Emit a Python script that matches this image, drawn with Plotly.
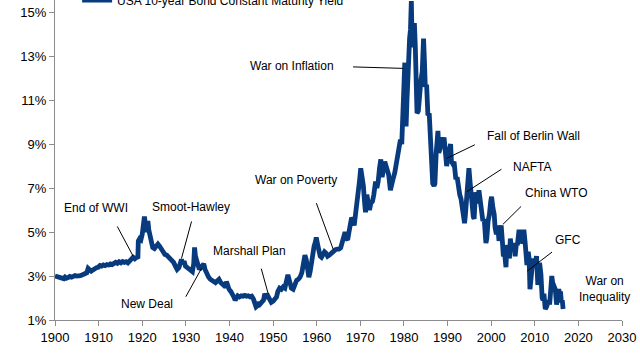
import plotly.graph_objects as go

# ---- data ----
years = [1900.0,1900.4,1900.8,1901.2,1901.6,1902.0,1902.3,1902.6,1903.0,1903.4,1903.8,1904.2,1904.6,1905.0,1905.4,1905.8,1906.2,1906.6,1907.0,1907.3,1907.6,1907.9,1908.3,1908.7,1909.1,1909.5,1909.9,1910.3,1910.7,1911.1,1911.5,1911.9,1912.3,1912.7,1913.1,1913.5,1913.9,1914.3,1914.7,1915.1,1915.5,1915.9,1916.3,1916.7,1917.1,1917.5,1917.9,1918.3,1918.7,1919.0,1919.1,1919.4,1919.7,1920.0,1920.3,1920.5,1920.7,1920.9,1921.1,1921.3,1921.5,1921.8,1922.1,1922.4,1922.8,1923.2,1923.6,1924.0,1924.4,1924.8,1925.2,1925.6,1926.0,1926.4,1926.8,1927.2,1927.6,1928.0,1928.4,1928.8,1929.0,1929.3,1929.6,1929.9,1930.3,1930.7,1931.1,1931.5,1931.8,1932.0,1932.2,1932.5,1932.8,1933.1,1933.5,1933.8,1934.1,1934.4,1934.8,1935.2,1935.6,1936.0,1936.4,1936.8,1937.2,1937.6,1938.0,1938.4,1938.8,1939.1,1939.3,1939.6,1939.9,1940.3,1940.7,1941.0,1941.3,1941.6,1941.9,1942.3,1942.7,1943.1,1943.5,1943.9,1944.3,1944.7,1945.1,1945.5,1945.8,1946.1,1946.4,1946.7,1947.0,1947.4,1947.8,1948.1,1948.4,1948.8,1949.2,1949.6,1950.0,1950.4,1950.8,1951.1,1951.5,1951.9,1952.3,1952.7,1953.0,1953.4,1953.8,1954.2,1954.6,1955.0,1955.4,1955.8,1956.2,1956.6,1956.9,1957.3,1957.6,1957.9,1958.2,1958.5,1958.8,1959.1,1959.4,1959.7,1959.9,1960.2,1960.5,1960.8,1961.1,1961.4,1961.8,1962.1,1962.5,1962.9,1963.2,1963.6,1963.9,1964.3,1964.7,1965.1,1965.5,1965.9,1966.2,1966.5,1966.8,1967.1,1967.4,1967.7,1968.0,1968.3,1968.6,1968.9,1969.2,1969.5,1969.8,1970.1,1970.4,1970.7,1971.0,1971.2,1971.5,1971.8,1972.1,1972.4,1972.8,1973.1,1973.5,1973.8,1974.1,1974.4,1974.7,1975.0,1975.3,1975.6,1975.9,1976.2,1976.5,1976.9,1977.2,1977.5,1977.9,1978.2,1978.5,1978.9,1979.2,1979.5,1979.8,1980.0,1980.2,1980.4,1980.5,1980.7,1980.9,1981.1,1981.3,1981.5,1981.7,1981.9,1982.1,1982.4,1982.6,1982.8,1983.0,1983.3,1983.6,1983.9,1984.2,1984.5,1984.7,1984.9,1985.2,1985.5,1985.8,1986.0,1986.3,1986.6,1986.9,1987.1,1987.4,1987.8,1988.0,1988.3,1988.6,1988.9,1989.2,1989.5,1989.8,1990.1,1990.4,1990.7,1990.9,1991.2,1991.5,1991.9,1992.2,1992.5,1992.8,1993.1,1993.4,1993.7,1993.9,1994.1,1994.4,1994.6,1994.9,1995.2,1995.5,1995.9,1996.1,1996.4,1996.7,1996.9,1997.2,1997.5,1997.8,1998.1,1998.4,1998.8,1999.0,1999.3,1999.6,1999.9,2000.1,2000.4,2000.7,2000.9,2001.2,2001.5,2001.8,2002.1,2002.3,2002.6,2002.8,2003.1,2003.4,2003.6,2003.9,2004.2,2004.4,2004.7,2004.9,2005.2,2005.5,2005.8,2006.0,2006.4,2006.7,2006.9,2007.2,2007.5,2007.8,2008.0,2008.2,2008.5,2008.7,2008.9,2009.1,2009.4,2009.6,2009.9,2010.2,2010.4,2010.7,2010.9,2011.1,2011.4,2011.7,2011.9,2012.1,2012.4,2012.7,2012.9,2013.2,2013.4,2013.6,2013.9,2014.1,2014.4,2014.7,2015.0,2015.2,2015.5,2015.7,2015.9,2016.1,2016.3,2016.5]
yields = [3.00,2.97,2.95,2.92,2.90,2.88,2.95,2.90,2.93,2.98,2.95,3.00,3.02,3.00,3.04,3.02,3.05,3.08,3.10,3.15,3.35,3.28,3.22,3.28,3.35,3.38,3.40,3.48,3.45,3.50,3.47,3.52,3.50,3.55,3.52,3.58,3.62,3.58,3.65,3.60,3.66,3.62,3.65,3.60,3.68,3.75,3.85,3.78,3.85,3.80,4.60,4.70,4.65,4.90,5.30,5.70,5.40,5.00,5.20,5.50,5.10,4.80,4.50,4.30,4.25,4.40,4.45,4.35,4.20,4.05,3.98,3.95,3.88,3.80,3.72,3.62,3.45,3.30,3.38,3.55,3.75,3.55,3.68,3.45,3.38,3.32,3.28,3.20,3.55,4.30,3.90,3.70,3.50,3.30,3.40,3.50,3.55,3.30,3.10,2.95,2.85,2.82,2.75,2.70,2.78,2.85,2.70,2.62,2.55,2.50,2.75,2.45,2.40,2.30,2.20,2.05,1.90,2.00,2.10,2.05,2.10,2.08,2.12,2.08,2.10,2.05,2.08,1.95,1.70,1.60,1.65,1.80,1.72,1.80,1.90,2.20,2.05,2.10,1.90,1.80,1.85,2.00,2.05,2.30,2.45,2.40,2.50,2.45,2.65,3.05,2.75,2.45,2.40,2.60,2.80,2.85,2.95,3.15,3.40,3.95,3.75,3.30,2.95,3.20,3.70,4.00,4.35,4.55,4.75,4.45,4.05,3.90,3.85,4.00,4.10,4.05,3.90,3.95,4.00,4.10,4.18,4.20,4.22,4.22,4.28,4.55,4.90,5.00,4.70,4.65,5.00,5.35,5.65,5.55,5.30,5.80,6.20,6.60,7.30,7.90,7.50,7.10,6.30,5.90,6.70,6.10,6.00,6.30,6.40,6.70,7.30,7.00,7.30,7.90,8.30,7.50,7.90,8.20,8.00,7.80,7.60,6.90,7.30,7.40,7.70,8.10,8.60,9.00,9.20,9.00,10.40,11.20,12.70,10.50,9.80,11.00,12.70,12.60,13.80,14.20,15.50,13.40,14.30,14.50,13.50,11.00,10.40,10.50,11.40,11.90,12.30,13.80,12.80,11.60,11.70,10.30,10.40,9.20,7.40,7.20,7.10,7.20,8.60,9.60,8.60,8.80,9.30,8.90,9.30,8.30,8.00,8.40,8.80,9.00,8.20,8.10,8.20,7.40,7.50,6.90,6.70,6.50,6.00,5.50,5.40,5.80,7.00,7.30,7.90,7.20,6.20,5.70,5.60,6.80,6.60,6.30,6.90,6.30,6.00,5.50,5.60,4.50,4.70,5.50,5.80,6.40,6.60,6.10,5.80,5.20,4.90,5.30,4.60,5.00,5.30,4.50,3.90,4.00,3.40,4.40,4.20,3.80,4.70,4.20,4.20,4.50,3.90,4.50,4.40,5.10,4.80,4.50,4.60,5.10,4.50,3.70,3.50,4.10,3.80,2.40,2.80,3.40,3.80,3.40,3.80,3.90,2.60,2.80,3.60,3.10,2.00,1.90,2.20,1.50,1.60,1.70,1.90,1.70,2.60,3.00,2.70,2.60,2.40,1.70,2.10,2.40,2.20,2.30,1.80,1.90,1.50]

series_name = "USA 10-year Bond Constant Maturity Yield"
x_ticks = [1900, 1910, 1920, 1930, 1940, 1950, 1960, 1970, 1980, 1990, 2000, 2010, 2020, 2030]
y_ticks = [1, 3, 5, 7, 9, 11, 13, 15]

# event labels: text, text position (year, %), leader tail (year, %), leader tip (year, %)
events = [
    ("End of WWI",          1909.3, 6.08, 1914.1, 5.32, 1917.9, 3.91),
    ("Smoot-Hawley",        1931.1, 6.12, 1931.4, 5.55, 1929.0, 3.80),
    ("New Deal",            1921.2, 1.71, 1929.8, 1.99, 1933.6, 3.35),
    ("Marshall Plan",       1944.6, 4.15, 1947.2, 3.40, 1948.9, 2.18),
    ("War on Poverty",      1955.2, 7.36, 1959.8, 6.38, 1963.8, 4.21),
    ("War on Inflation",    1954.3, 12.55, 1968.0, 12.51, 1979.9, 12.44),
    ("Fall of Berlin Wall", 2009.8, 9.36, 1996.6, 9.00, 1989.8, 8.35),
    ("NAFTA",               2009.3, 7.97, 2002.7, 7.90, 1994.4, 6.83),
    ("China WTO",           2014.8, 6.76, 2007.2, 6.23, 2002.7, 5.35),
    ("GFC",                 2017.6, 4.64, 2014.3, 4.14, 2008.3, 3.23),
]
side_note = ("War on<br>Inequality", 2025.9, 2.43)

FONT = "Liberation Sans, Arial, sans-serif"
FS = 12
TICK_FS = 13
LINE_COLOR = "#083a7e"

fig = go.Figure()
fig.add_trace(go.Scatter(
    x=years, y=yields, mode="lines", name=series_name,
    line=dict(color=LINE_COLOR, width=4.8),
    showlegend=True, hoverinfo="skip",
))

annotations = []
for text, tx, ty, ax_, ay_, px_, py_ in events:
    annotations.append(dict(x=tx, y=ty, xref="x", yref="y", text=text,
                            showarrow=False, font=dict(family=FONT, size=FS, color="#000")))
    annotations.append(dict(x=px_, y=py_, ax=ax_, ay=ay_, xref="x", yref="y",
                            axref="x", ayref="y", text="", showarrow=True,
                            arrowhead=0, arrowwidth=1, arrowcolor="#000", standoff=0))
annotations.append(dict(x=side_note[1], y=side_note[2], xref="x", yref="y",
                        text=side_note[0], showarrow=False, align="center",
                        font=dict(family=FONT, size=FS, color="#000")))

fig.update_layout(
    width=640, height=360,
    margin=dict(l=55, r=18, t=0, b=40, autoexpand=False),
    paper_bgcolor="white", plot_bgcolor="white",
    font=dict(family=FONT, size=FS, color="#000"),
    legend=dict(x=0.039, y=1.0, xanchor="left", yanchor="middle",
                bgcolor="rgba(0,0,0,0)", font=dict(family=FONT, size=FS, color="#000")),
    annotations=annotations,
    xaxis=dict(range=[1900, 2030], tickvals=x_ticks, ticktext=[str(v) for v in x_ticks],
               showgrid=False, zeroline=False, showline=True, linecolor="#8c8c8c",
               linewidth=1, ticks="outside", ticklen=5, tickcolor="#8c8c8c",
               tickfont=dict(family=FONT, size=TICK_FS, color="#000")),
    yaxis=dict(range=[1, 15.55], tickvals=y_ticks, ticktext=[f"{v}%" for v in y_ticks],
               showgrid=False, zeroline=False, showline=True, linecolor="#8c8c8c",
               linewidth=1, ticks="outside", ticklen=5, tickcolor="#8c8c8c",
               tickfont=dict(family=FONT, size=TICK_FS, color="#000")),
)

fig.write_html("out.html", config={"displayModeBar": False},
               post_script="document.body.style.margin='0px';")
